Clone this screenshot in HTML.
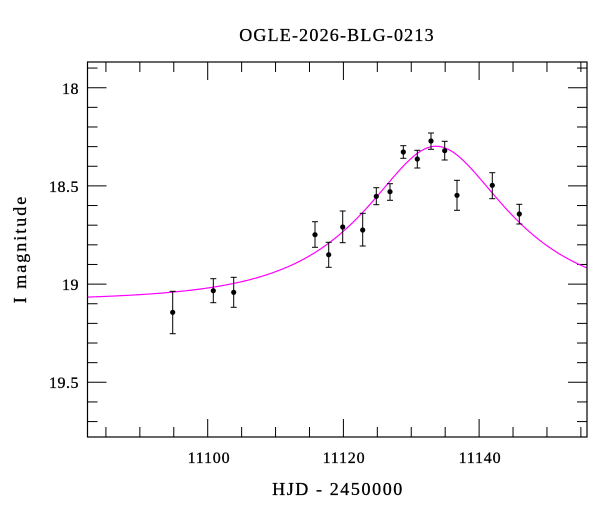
<!DOCTYPE html>
<html><head><meta charset="utf-8"><style>
html,body{margin:0;padding:0;background:#fff;}
svg{display:block;font-family:"Liberation Serif",serif;}
</style></head><body>
<svg id="s" width="600" height="512" viewBox="0 0 600 512" xmlns="http://www.w3.org/2000/svg">
<rect width="600" height="512" fill="#fff"/>
<text x="337" y="41" font-size="18" letter-spacing="1.2" text-anchor="middle" stroke="#000" stroke-width="0.3">OGLE-2026-BLG-0213</text>
<g id="ticks" stroke="#000" stroke-width="1"></g>
<path id="curve" fill="none" stroke="#ff00ff" stroke-width="1.2"/>
<g id="pts"></g>
<rect x="87.5" y="62" width="499.5" height="375" fill="none" stroke="#000" stroke-width="1.2"/>
<g font-size="16" text-anchor="end" stroke="#000" stroke-width="0.3" letter-spacing="0.5">
<text x="79" y="94">18</text>
<text x="79" y="192">18.5</text>
<text x="79" y="290">19</text>
<text x="79" y="388">19.5</text>
</g>
<g font-size="16" text-anchor="middle" stroke="#000" stroke-width="0.3" letter-spacing="0.8">
<text x="209" y="463">11100</text>
<text x="344" y="463">11120</text>
<text x="480" y="463">11140</text>
</g>
<text x="338" y="495" font-size="18" letter-spacing="1.6" text-anchor="middle" stroke="#000" stroke-width="0.3">HJD - 2450000</text>
<text transform="translate(26,249) rotate(-90)" font-size="18" letter-spacing="2" text-anchor="middle" stroke="#000" stroke-width="0.3">I magnitude</text>
</svg>
<script>
var NS="http://www.w3.org/2000/svg";
function el(t,a,p){var e=document.createElementNS(NS,t);for(var k in a)e.setAttribute(k,a[k]);p.appendChild(e);return e;}
var L=87.5,R=587,T=62,B=437;
function X(t){return 207.7+(t-11100)*6.785;}
function Y(m){return 87.7+(m-18)*196.4;}
var g=document.getElementById('ticks');
for(var t=11085;t<=11155;t+=5){var x=X(t);var maj=(t%20==0);var len=maj?18:10;
 el('line',{x1:x,y1:B,x2:x,y2:B-len},g);el('line',{x1:x,y1:T,x2:x,y2:T+len},g);}
for(var i=-1;i<=17;i++){var m=18+i*0.1;var y=Y(m);if(y<T+1||y>B-1)continue;var maj=(i%5==0);var len=maj?19:10;
 el('line',{x1:L,y1:y,x2:L+len,y2:y},g);el('line',{x1:R,y1:y,x2:R-len,y2:y},g);}
var m0=19.085,u0=0.535,tE=17.6,t0=11133.66;
var d="";
for(var px=L;px<=R;px+=1){var tt=11100+(px-207.7)/6.785;var dt=(tt-t0)/tE;var u=Math.sqrt(u0*u0+dt*dt);
 var A=(u*u+2)/(u*Math.sqrt(u*u+4));var mm=m0-2.5*Math.log10(A);d+=(d?"L":"M")+px.toFixed(1)+","+Y(mm).toFixed(2);}
document.getElementById('curve').setAttribute('d',d);
var P=[[172.7,312.3,291.3,333.7],[213.3,290.7,278.7,302.7],[233.7,292.3,277.3,307.3],[315,234.7,221.7,247.3],
[328.7,254.7,242.3,267.3],[342.7,227,211,242.7],[362.7,230,213.3,246],[376.3,196.3,187.7,204.7],[390,191.7,183.7,200.3],
[403.3,152,145.7,158.3],[417.3,159,150.3,168],[431,141,133,149.3],[444.7,150.7,141.3,160],[457,195.3,180.3,210.3],
[492.3,185.3,172.7,198.7],[519.3,214,204.3,224]];
var pg=document.getElementById('pts');
P.forEach(function(p){el('line',{x1:p[0],y1:p[2],x2:p[0],y2:p[3],stroke:'#000','stroke-width':1},pg);
 el('line',{x1:p[0]-3,y1:p[2],x2:p[0]+3,y2:p[2],stroke:'#000','stroke-width':1},pg);
 el('line',{x1:p[0]-3,y1:p[3],x2:p[0]+3,y2:p[3],stroke:'#000','stroke-width':1},pg);
 el('circle',{cx:p[0],cy:p[1],r:2.6,fill:'#000'},pg);});
</script>
</body></html>
